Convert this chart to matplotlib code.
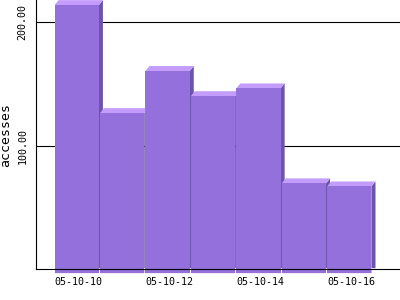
import matplotlib
matplotlib.use("Agg")
import matplotlib.pyplot as plt
from matplotlib.patches import Polygon

# data
dates = ["05-10-10", "05-10-11", "05-10-12", "05-10-13", "05-10-14", "05-10-15", "05-10-16"]
accesses = [213.8, 126.3, 160.4, 140.0, 146.3, 69.4, 66.9]
shown_labels = ["05-10-10", "05-10-12", "05-10-14", "05-10-16"]

front_col = "#9370DB"
top_col = "#C49CFC"
side_col = "#6C55A8"

# 3d depth in data units (about 4px right, 5px up)
dx = 0.09
dy = 4.0
base = -3.3
w = 0.975

fig = plt.figure(figsize=(4, 3), dpi=100)
ax = fig.add_axes([0.09, 0.1033, 0.91, 0.8967])

xs = list(range(len(dates)))
for i, (x, v) in enumerate(zip(xs, accesses)):
    z = 3 + i
    r = x + w / 2
    l = x - w / 2
    # back box (dark) so the gap between fronts shows the side colour
    side = Polygon([(l + dx, base + dy), (l, base), (r, base), (r, v),
                    (r + dx, v + dy), (r + dx, base + dy)],
                   closed=True, facecolor=side_col, edgecolor="none", zorder=z, clip_on=False)
    top = Polygon([(l, v), (r, v), (r + dx, v + dy), (l + dx, v + dy)],
                  closed=True, facecolor=top_col, edgecolor="none", zorder=z, clip_on=False)
    ax.add_patch(side)
    ax.add_patch(top)
    ax.bar([x], [v - base], bottom=base, width=w, color=front_col, zorder=z + 0.5, clip_on=False)

ax.set_xlim(-0.896, 7.117)
ax.set_ylim(0, 217.9)

tick_pos = [dates.index(d) + dx / 2 for d in shown_labels]
ax.set_xticks(tick_pos)
ax.set_xticklabels(shown_labels, family="DejaVu Sans Mono", fontsize=7.2)
ax.set_yticks([100, 200])
ax.set_yticklabels(["%.2f" % t for t in [100, 200]], family="DejaVu Sans Mono",
                   fontsize=7.2, rotation=90, va="center")
ax.tick_params(axis="both", length=0)
ax.tick_params(axis="x", pad=5.5)
ax.tick_params(axis="y", pad=6)

ax.set_ylabel("accesses", family="DejaVu Sans Mono", fontsize=9.5, labelpad=4)

ax.yaxis.grid(True, color="black", linewidth=0.8, zorder=0)
ax.set_axisbelow(True)
for s in ["top", "right"]:
    ax.spines[s].set_visible(False)
for s in ["left", "bottom"]:
    ax.spines[s].set_linewidth(0.8)
    ax.spines[s].set_zorder(20)

plt.savefig("out.png", dpi=100)
